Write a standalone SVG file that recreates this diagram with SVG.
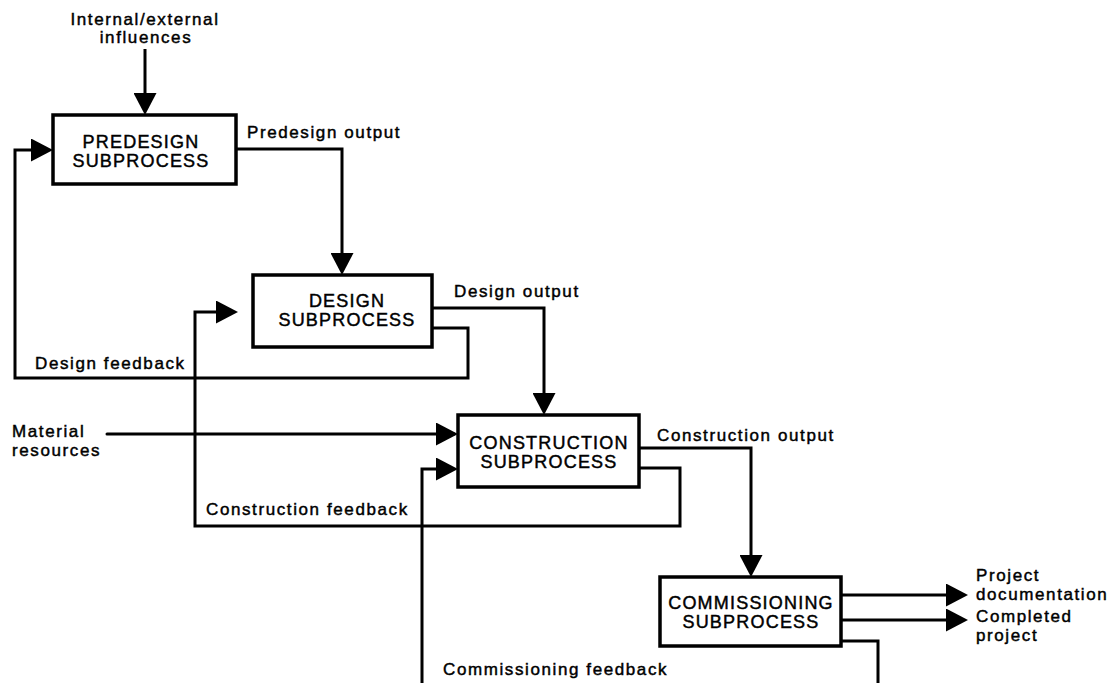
<svg xmlns="http://www.w3.org/2000/svg" width="1113" height="683" viewBox="0 0 1113 683">
  <style>
    .box { fill: #fff; stroke: #000; stroke-width: 3.5; }
    .title { font-family: "Liberation Sans", Arial, sans-serif; font-size: 18px; letter-spacing: 1.2px; text-anchor: middle; fill: #000; stroke: #000; stroke-width: 0.45; }
    .label { font-family: "Liberation Sans", Arial, sans-serif; font-size: 17px; letter-spacing: 1.6px; fill: #000; stroke: #000; stroke-width: 0.45; }
    .mid { text-anchor: middle; }
    .flow { fill: none; stroke: #000; stroke-width: 3; stroke-linejoin: miter; marker-end: url(#arrow); }
  </style>
  <defs>
    <marker id="arrow" viewBox="0 0 22 23" refX="18" refY="11.5" markerWidth="22" markerHeight="23" markerUnits="userSpaceOnUse" orient="auto">
      <path d="M0,0 L22,11.5 L0,23 Z" fill="#000"/>
    </marker>
  </defs>
  <rect width="1113" height="683" fill="#fff"/>

  <!-- connectors -->
  <g id="connectors">
    <path class="flow" d="M145,49 V111"/>
    <path class="flow" d="M236,149 H342 V271"/>
    <path class="flow" d="M432,328 H468 V378 H15 V150 H49"/>
    <path class="flow" d="M432,308 H544 V411"/>
    <path class="flow" d="M639,468 H680 V526 H195 V312 H234"/>
    <path class="flow" d="M107,434 H454" stroke-linecap="round"/>
    <path class="flow" d="M639,448 H751 V573"/>
    <path class="flow" d="M841,641 H878 V695 H422 V469 H454"/>
    <path class="flow" d="M841,595 H964"/>
    <path class="flow" d="M841,620 H964"/>
  </g>

  <!-- edge labels -->
  <g id="labels">
    <text class="label mid" x="145" y="25">Internal/external</text>
    <text class="label mid" x="146" y="43">influences</text>
    <text class="label" x="247" y="138">Predesign output</text>
    <text class="label" x="454" y="297">Design output</text>
    <text class="label" x="35" y="369">Design feedback</text>
    <text class="label" x="12" y="437">Material</text>
    <text class="label" x="12" y="456">resources</text>
    <text class="label" x="657" y="441">Construction output</text>
    <text class="label" x="206" y="515">Construction feedback</text>
    <text class="label" x="443" y="675">Commissioning feedback</text>
    <text class="label" x="976" y="581">Project</text>
    <text class="label" x="976" y="600">documentation</text>
    <text class="label" x="976" y="622">Completed</text>
    <text class="label" x="976" y="641">project</text>
  </g>

  <g id="predesign">
    <rect class="box" x="53" y="115" width="183" height="69"/>
    <text class="title" x="141" y="148">PREDESIGN</text>
    <text class="title" x="141" y="167">SUBPROCESS</text>
  </g>

  <g id="design">
    <rect class="box" x="253" y="275" width="179" height="72"/>
    <text class="title" x="347" y="307">DESIGN</text>
    <text class="title" x="347" y="326">SUBPROCESS</text>
  </g>

  <g id="construction">
    <rect class="box" x="458" y="415" width="181" height="72"/>
    <text class="title" x="549" y="449">CONSTRUCTION</text>
    <text class="title" x="549" y="468">SUBPROCESS</text>
  </g>

  <g id="commissioning">
    <rect class="box" x="660" y="577" width="181" height="69"/>
    <text class="title" x="751" y="609">COMMISSIONING</text>
    <text class="title" x="751" y="628">SUBPROCESS</text>
  </g>
</svg>
